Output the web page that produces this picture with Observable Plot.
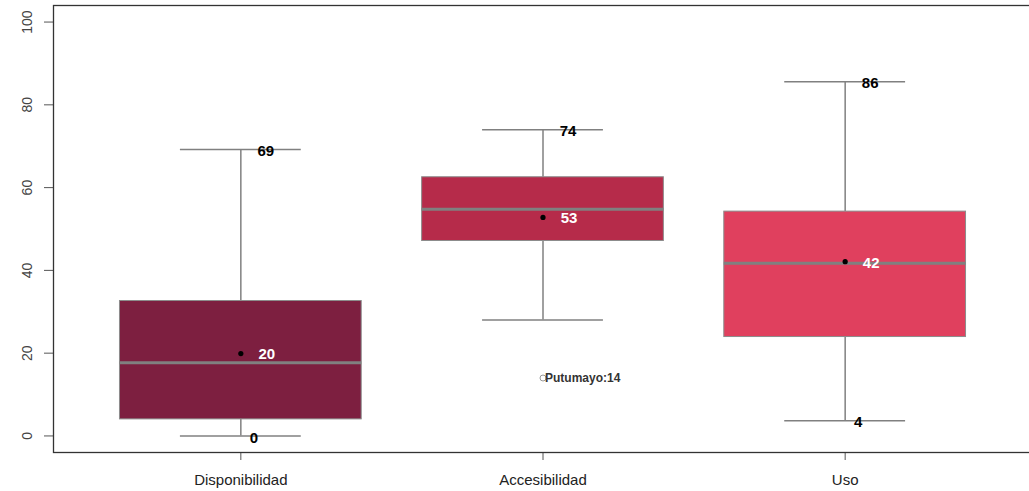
<!DOCTYPE html>
<html>
<head>
<meta charset="utf-8">
<script src="https://cdn.jsdelivr.net/npm/d3@7"></script>
<script src="https://cdn.jsdelivr.net/npm/@observablehq/plot@0.6"></script>
<style>
  html, body { margin: 0; padding: 0; background: #fff; }
  #chart svg { display: block; font-family: "Liberation Sans", Arial, sans-serif; }
</style>
</head>
<body>
<div id="chart"></div>
<script>
// ---- Data ----
const categories = ["Disponibilidad", "Accesibilidad", "Uso"];
const q1 = [4.0, 47.1, 23.9];
const q3 = [32.6, 62.5, 54.2];
const medians = [17.7, 54.8, 41.7];
const means = [19.9, 52.8, 42.1];
const whiskerLow = [0, 28.0, 3.7];
const whiskerHigh = [69.2, 74.0, 85.6];
const maxLabels = ["69", "74", "86"];
const minLabels = ["0", null, "4"];
const meanLabels = ["20", "53", "42"];
const outlierCategory = ["Accesibilidad"];
const outlierValue = [14];
const outlierName = ["Putumayo"];
const boxColors = ["#7d1f40", "#b62b4a", "#e0405e"];
const yTicks = [0, 20, 40, 60, 80, 100];

// ---- Table built from the arrays ----
const boxes = categories.map((c, i) => ({
  cat: c, pos: i + 1, q1: q1[i], q3: q3[i], med: medians[i], mean: means[i],
  lo: whiskerLow[i], hi: whiskerHigh[i], maxLab: maxLabels[i], minLab: minLabels[i],
  meanLab: meanLabels[i], color: boxColors[i]
}));
const outliers = outlierCategory.map((c, i) => ({
  pos: categories.indexOf(c) + 1, value: outlierValue[i],
  label: `${outlierName[i]}:${outlierValue[i]}`
}));

const halfBox = 0.4, halfCap = 0.2;
const grey = "#808080";

const chart = Plot.plot({
  width: 1029,
  height: 491,
  marginLeft: 53,
  marginRight: -3,
  marginTop: 5,
  marginBottom: 39,
  x: {type: "linear", domain: [0.38, 3.62], label: null},
  y: {type: "linear", domain: [-4, 104], label: null},
  style: {fontFamily: "Liberation Sans, Arial, sans-serif", background: "#fff"},
  marks: [
    // whiskers (vertical)
    Plot.ruleX(boxes, {x: "pos", y1: "q3", y2: "hi", stroke: grey, strokeWidth: 1.5}),
    Plot.ruleX(boxes, {x: "pos", y1: "lo", y2: "q1", stroke: grey, strokeWidth: 1.5}),
    // caps
    Plot.ruleY(boxes, {y: "hi", x1: d => d.pos - halfCap, x2: d => d.pos + halfCap, stroke: grey, strokeWidth: 1.5}),
    Plot.ruleY(boxes, {y: "lo", x1: d => d.pos - halfCap, x2: d => d.pos + halfCap, stroke: grey, strokeWidth: 1.5}),
    // boxes
    Plot.rect(boxes, {x1: d => d.pos - halfBox, x2: d => d.pos + halfBox, y1: "q1", y2: "q3",
      fill: "color", stroke: "#8c8c8c", strokeWidth: 1}),
    // medians
    Plot.ruleY(boxes, {y: "med", x1: d => d.pos - halfBox, x2: d => d.pos + halfBox, stroke: grey, strokeWidth: 3}),
    // means
    Plot.dot(boxes, {x: "pos", y: "mean", r: 2.6, fill: "black", stroke: "none"}),
    Plot.text(boxes, {x: "pos", y: "mean", text: "meanLab", dx: 26, dy: 1, fill: "white",
      fontWeight: "bold", fontSize: 15, textAnchor: "middle"}),
    // max / min labels
    Plot.text(boxes, {x: "pos", y: "hi", text: "maxLab", dx: 25, dy: 2, fill: "black",
      fontWeight: "bold", fontSize: 15, textAnchor: "middle"}),
    Plot.text(boxes.filter(d => d.minLab != null), {x: "pos", y: "lo", text: "minLab", dx: 13, dy: 2, fill: "black",
      fontWeight: "bold", fontSize: 15, textAnchor: "middle"}),
    // outliers
    Plot.dot(outliers, {x: "pos", y: "value", r: 3, stroke: "#999", fill: "none", strokeWidth: 1}),
    Plot.text(outliers, {x: "pos", y: "value", text: "label", dx: 2, fill: "#333",
      fontWeight: "bold", fontSize: 12, textAnchor: "start"}),
    // axes
    Plot.axisX({ticks: [1, 2, 3], tickFormat: d => categories[d - 1], tickSize: 8, tickPadding: 14,
      fontSize: 15, stroke: "#555", color: "#222", label: null}),
    Plot.axisY({ticks: yTicks, tickSize: 9, tickFormat: () => "", stroke: "#555", label: null}),
    Plot.text(yTicks, {frameAnchor: "left", y: d => d, text: d => String(d), rotate: -90, dx: -26,
      fontSize: 14, fill: "#444", textAnchor: "middle", lineAnchor: "middle"}),
    Plot.frame({stroke: "#333", strokeWidth: 1.3})
  ]
});
document.getElementById("chart").appendChild(chart);
</script>
</body>
</html>
